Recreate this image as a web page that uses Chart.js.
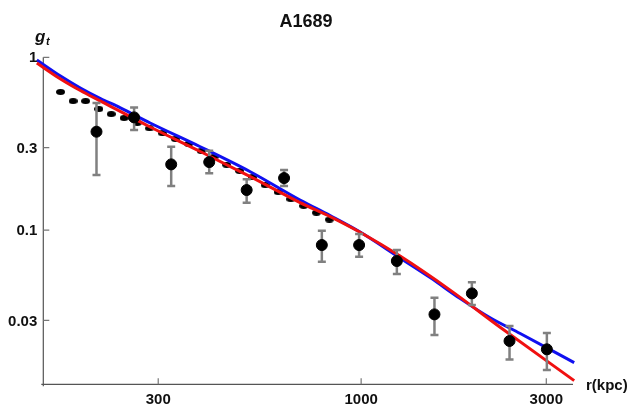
<!DOCTYPE html>
<html>
<head>
<meta charset="utf-8">
<script src="https://cdn.jsdelivr.net/npm/chart.js@4/dist/chart.umd.min.js"></script>
<style>
  body { margin: 0; background: #fff; }
  canvas { display: block; }
</style>
</head>
<body>
<canvas id="grafica" width="630" height="406"></canvas>
<script>
// datos
var rPeque = [168, 181, 195, 211, 227, 245, 265, 285, 308, 332, 359, 387, 418, 450, 486, 525, 566, 611, 659, 711, 767, 828];
var gPeque = [0.630, 0.558, 0.558, 0.502, 0.469, 0.445, 0.417, 0.388, 0.363, 0.337, 0.315, 0.287, 0.266, 0.239, 0.220, 0.203, 0.182, 0.166, 0.151, 0.138, 0.126, 0.115];

var rGrande = [208, 260, 324, 406, 507, 633, 792, 988, 1236, 1545, 1929, 2412, 3010];
var gGrande = [0.371, 0.449, 0.240, 0.2475, 0.1705, 0.200, 0.0819, 0.0819, 0.0662, 0.0325, 0.0430, 0.0228, 0.0204];
var gGrandeSup = [0.544, 0.513, 0.304, 0.288, 0.197, 0.223, 0.099, 0.095, 0.0766, 0.0406, 0.0498, 0.0278, 0.0254];
var gGrandeInf = [0.208, 0.379, 0.180, 0.213, 0.144, 0.180, 0.0655, 0.0701, 0.0556, 0.0247, 0.0368, 0.0178, 0.0155];

var rAzul = [146, 168, 189, 213, 239, 286, 385, 518, 696, 832, 994, 1260, 1506, 1800, 2150, 2570, 3540];
var gAzul = [0.965, 0.779, 0.664, 0.577, 0.512, 0.4165, 0.3036, 0.2176, 0.1492, 0.1213, 0.0974, 0.0689, 0.0531, 0.0401, 0.0311, 0.0252, 0.0171];

var rRojo = [146, 168, 189, 213, 286, 385, 518, 696, 832, 994, 1260, 1696, 2281, 3540];
var gRojo = [0.927, 0.749, 0.642, 0.558, 0.395, 0.285, 0.204, 0.1443, 0.1197, 0.0972, 0.0707, 0.0449, 0.0274, 0.01344];

var ticksX = [300, 1000, 3000];
var ticksY = [1, 0.3, 0.1, 0.03];
var titulo = "A1689";

function pares(xs, ys) {
  var out = [];
  for (let i = 0; i < xs.length; i++) out.push({ x: xs[i], y: ys[i] });
  return out;
}

// marcador chato para los puntos pequeños
var marca = document.createElement("canvas");
marca.width = 9; marca.height = 6;
var mc = marca.getContext("2d");
mc.fillStyle = "#000";
mc.beginPath();
mc.ellipse(4.5, 3, 4.5, 2.9, 0, 0, Math.PI * 2);
mc.fill();

var fuente = "'Liberation Sans', Arial, sans-serif";

var ejes = {
  id: "ejes",
  beforeDatasetsDraw: function (chart) {
    var ctx = chart.ctx, a = chart.chartArea;
    var sx = chart.scales.x, sy = chart.scales.y;
    ctx.save();
    ctx.strokeStyle = "#555";
    ctx.lineWidth = 1.2;
    ctx.beginPath();
    ctx.moveTo(a.left, a.top);
    ctx.lineTo(a.left, a.bottom + 2);
    ctx.moveTo(a.left - 2, a.bottom);
    ctx.lineTo(a.right, a.bottom);
    ctx.stroke();
    ctx.strokeStyle = "#777";
    ctx.beginPath();
    for (let v of ticksY) {
      var py = sy.getPixelForValue(v);
      ctx.moveTo(a.left, py);
      ctx.lineTo(a.left + 6, py);
    }
    for (let v of ticksX) {
      var px = sx.getPixelForValue(v);
      ctx.moveTo(px, a.bottom);
      ctx.lineTo(px, a.bottom - 6);
    }
    ctx.stroke();
    ctx.restore();
  },
  beforeDatasetDraw: function (chart, args) {
    if (args.index !== 3) return;
    var ctx = chart.ctx, sx = chart.scales.x, sy = chart.scales.y;
    ctx.save();
    ctx.strokeStyle = "#808080";
    ctx.lineWidth = 2.5;
    ctx.beginPath();
    for (let i = 0; i < rGrande.length; i++) {
      var px = sx.getPixelForValue(rGrande[i]);
      var p1 = sy.getPixelForValue(gGrandeSup[i]);
      var p2 = sy.getPixelForValue(gGrandeInf[i]);
      ctx.moveTo(px, p1); ctx.lineTo(px, p2);
      ctx.moveTo(px - 4, p1); ctx.lineTo(px + 4, p1);
      ctx.moveTo(px - 4, p2); ctx.lineTo(px + 4, p2);
    }
    ctx.stroke();
    ctx.restore();
  },
  afterDraw: function (chart) {
    var ctx = chart.ctx, a = chart.chartArea;
    var sx = chart.scales.x, sy = chart.scales.y;
    ctx.save();
    ctx.fillStyle = "#111";
    ctx.font = "bold 15px " + fuente;
    ctx.textAlign = "right";
    ctx.textBaseline = "middle";
    for (let v of ticksY) {
      ctx.fillText(String(v), a.left - 6, sy.getPixelForValue(v) + 1);
    }
    ctx.textAlign = "center";
    ctx.textBaseline = "alphabetic";
    for (let v of ticksX) {
      ctx.fillText(String(v), sx.getPixelForValue(v), 404);
    }
    ctx.textAlign = "left";
    ctx.fillText("r(kpc)", 586, 390);
    // titulo
    ctx.font = "bold 18px " + fuente;
    ctx.textAlign = "center";
    ctx.fillText(titulo, 306, 27);
    // etiqueta eje y
    ctx.textAlign = "left";
    ctx.font = "italic bold 17px " + fuente;
    ctx.fillText("g", 35, 42);
    ctx.font = "italic bold 11px " + fuente;
    ctx.fillText("t", 46, 45);
    ctx.restore();
  }
};

var ctx = document.getElementById("grafica").getContext("2d");
var miGrafica = new Chart(ctx, {
  type: "scatter",
  data: {
    datasets: [
      {
        label: "perfil",
        data: pares(rPeque, gPeque),
        pointStyle: marca,
        pointRadius: 4,
        order: 4
      },
      {
        label: "azul",
        type: "line",
        data: pares(rAzul, gAzul),
        borderColor: "#1010f0",
        borderWidth: 3,
        pointRadius: 0,
        fill: false,
        cubicInterpolationMode: "monotone",
        clip: false,
        order: 3
      },
      {
        label: "rojo",
        type: "line",
        data: pares(rRojo, gRojo),
        borderColor: "#f01010",
        borderWidth: 3,
        pointRadius: 0,
        fill: false,
        cubicInterpolationMode: "monotone",
        clip: false,
        order: 2
      },
      {
        label: "datos",
        data: pares(rGrande, gGrande),
        backgroundColor: "#000",
        borderColor: "#000",
        pointRadius: 5.5,
        order: 1
      }
    ]
  },
  options: {
    responsive: false,
    animation: false,
    layout: { padding: { left: 43.3, right: 57, top: 57.3, bottom: 21.7 } },
    plugins: { legend: { display: false }, tooltip: { enabled: false }, title: { display: false } },
    scales: {
      x: { type: "logarithmic", min: 151.7, max: 3515, display: false },
      y: { type: "logarithmic", min: 0.0128, max: 1, display: false }
    }
  },
  plugins: [ejes]
});
</script>
</body>
</html>
